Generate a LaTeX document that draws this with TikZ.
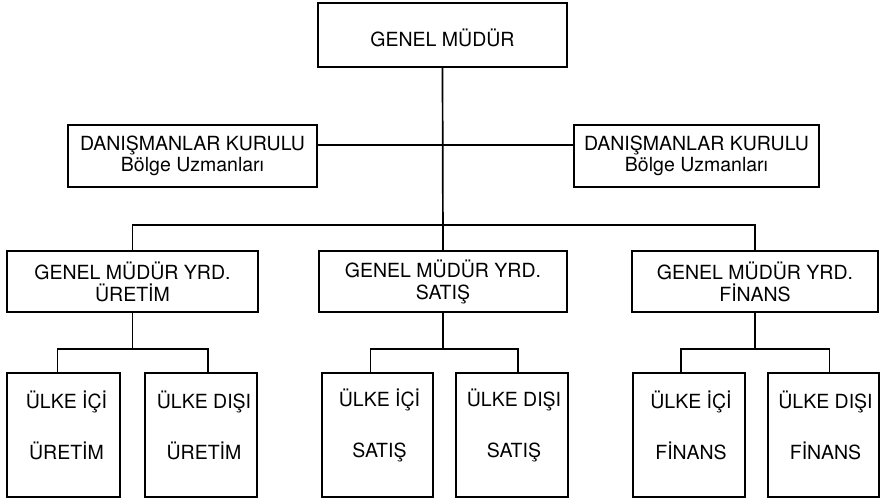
\documentclass[tikz,border=0pt]{standalone}
\usepackage{fontspec}
\setmainfont{TeX Gyre Heros}
\begin{document}
\begin{tikzpicture}[x=1pt,y=-1pt,
  box/.style={draw, line width=1.7pt, inner sep=0pt, align=center,
              font=\fontsize{19.5}{22}\selectfont},
  unitbox/.style={draw, line width=1.7pt, inner sep=0pt,
                  minimum height=124pt},
  unittext/.style={align=center, inner sep=0pt,
                   font=\fontsize{19.5}{24}\selectfont},
  wire/.style={line width=1.7pt}]
\useasboundingbox (0,0) rectangle (884,502);

% top level
\node[box, minimum width=249pt, minimum height=64pt,
      text height=24pt, text depth=0pt] (gm) at (442.5,35) {GENEL MÜDÜR};

% advisory boards
\node[box, minimum width=249pt, minimum height=62pt] (dk1) at (192.5,156)
  {DANIŞMANLAR KURULU\\[-1pt]Bölge Uzmanları};
\node[box, minimum width=245pt, minimum height=62pt] (dk2) at (696.5,156)
  {DANIŞMANLAR KURULU\\[-1pt]Bölge Uzmanları};

% deputy general managers
\node[box, minimum width=251pt, minimum height=61pt] (yrd1) at (132.5,281.5)
  {GENEL MÜDÜR YRD.\\ÜRETİM};
\node[box, minimum width=248pt, minimum height=61pt] (yrd2) at (443,281.5)
  {GENEL MÜDÜR YRD.\\SATIŞ};
\node[box, minimum width=246pt, minimum height=61pt] (yrd3) at (755,281.5)
  {GENEL MÜDÜR YRD.\\FİNANS};

% departments
\node[unitbox, minimum width=113pt] (b1) at (63.5,435) {};
\node[unitbox, minimum width=112pt] (b2) at (201,435) {};
\node[unitbox, minimum width=111pt] (b3) at (377.5,435) {};
\node[unitbox, minimum width=112pt] (b4) at (512,435) {};
\node[unitbox, minimum width=112pt] (b5) at (689,435) {};
\node[unitbox, minimum width=111pt] (b6) at (823.5,435) {};

\node[unittext] (b1t) at ([xshift=3pt,yshift=10pt]b1.center) {ÜLKE İÇİ\\[27pt]ÜRETİM};
\node[unittext] (b2t) at ([xshift=3pt,yshift=10pt]b2.center) {ÜLKE DIŞI\\[27pt]ÜRETİM};
\node[unittext] (b3t) at ([xshift=2pt,yshift=10pt]b3.center) {ÜLKE İÇİ\\[27pt]SATIŞ};
\node[unittext] (b4t) at ([xshift=2pt,yshift=10pt]b4.center) {ÜLKE DIŞI\\[27pt]SATIŞ};
\node[unittext] (b5t) at ([xshift=2pt,yshift=10pt]b5.center) {ÜLKE İÇİ\\[27pt]FİNANS};
\node[unittext] (b6t) at ([xshift=2pt,yshift=10pt]b6.center) {ÜLKE DIŞI\\[27pt]FİNANS};

% junction points
\coordinate (bus)  at (443,225);
\coordinate (sub1) at (132.5,349);
\coordinate (sub2) at (443,349);
\coordinate (sub3) at (755,349);

% connectors
\draw[wire] (gm.south) -- (yrd2.north);
\draw[wire] ([yshift=11pt]dk1.east) -- ([yshift=11pt]dk2.west);
\draw[wire] (yrd1.north) |- (bus) -| (yrd3.north);

\draw[wire] (yrd1.south) -- (sub1);
\draw[wire] ([xshift=-6pt]b1.north) |- (sub1) -| ([xshift=7pt]b2.north);
\draw[wire] (yrd2.south) -- (sub2);
\draw[wire] ([xshift=-7pt]b3.north) |- (sub2) -| ([xshift=6pt]b4.north);
\draw[wire] (yrd3.south) -- (sub3);
\draw[wire] ([xshift=-8pt]b5.north) |- (sub3) -| ([xshift=6pt]b6.north);
\end{tikzpicture}
\end{document}
